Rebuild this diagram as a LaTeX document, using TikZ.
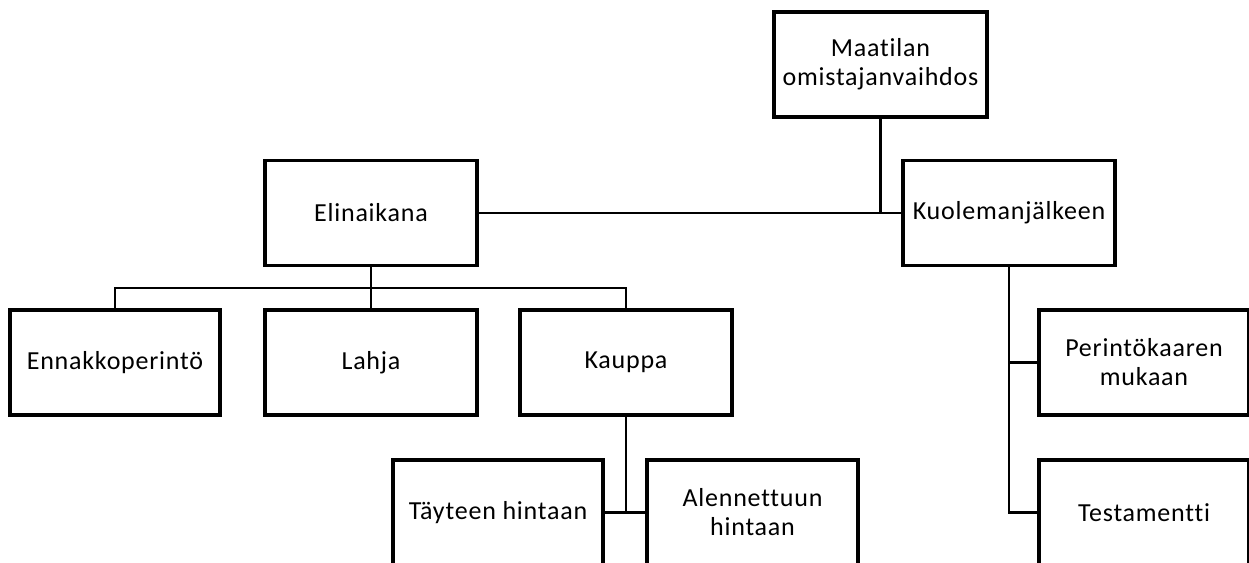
\documentclass[tikz,border=0pt]{standalone}
\usepackage{fontspec}
\setmainfont{Carlito}[Ligatures={NoCommon},LetterSpace=3]
\begin{document}
\begin{tikzpicture}[x=1pt,y=-1pt,
  box/.style={draw=black,line width=3.6pt,rectangle,minimum width=212pt,minimum height=105pt,
    inner sep=0pt,align=center,font=\fontsize{26}{29}\selectfont},
  conn/.style={draw=black,line width=2.6pt}]
\useasboundingbox (0,0) rectangle (1249,562);
\clip (0,0) rectangle (1249,562);
\node[box,minimum width=213pt] (top) at (880.5,64.5) {Maatilan\\omistajanvaihdos};
\node[box] (elin) at (371,213) {Elinaikana};
\node[box] (kuol) at (1009,213) {Kuolemanjälkeen};
\node[box,minimum width=210pt] (enn) at (115,362.5) {Ennakkoperintö};
\node[box] (lahja) at (371,362.5) {Lahja};
\node[box] (kauppa) at (626,362.5) {Kauppa};
\node[box,minimum width=210pt] (tay) at (498,512.5) {Täyteen hintaan};
\node[box,minimum width=211pt] (alen) at (752.5,512.5) {Alennettuun\\hintaan};
\node[box,minimum width=210pt] (per) at (1144,362.5) {Perintökaaren\\mukaan};
\node[box,minimum width=210pt] (test) at (1144,512.5) {Testamentti};
\coordinate (bus) at (371,288);
\draw[conn] (top.south) -- (top.south |- elin.east);
\draw[conn] (elin.east) -- (kuol.west);
\draw[conn] (elin.south) -- (bus);
\draw[conn] (enn.north) -- (enn.north |- bus) -- (kauppa.north |- bus) -- (kauppa.north);
\draw[conn] (bus) -- (lahja.north);
\draw[conn] (kauppa.south) -- (kauppa.south |- tay.east);
\draw[conn] (tay.east) -- (alen.west);
\draw[conn] (kuol.south) -- (kuol.south |- test.west) -- (test.west);
\draw[conn] (kuol.south |- per.west) -- (per.west);
\end{tikzpicture}
\end{document}
